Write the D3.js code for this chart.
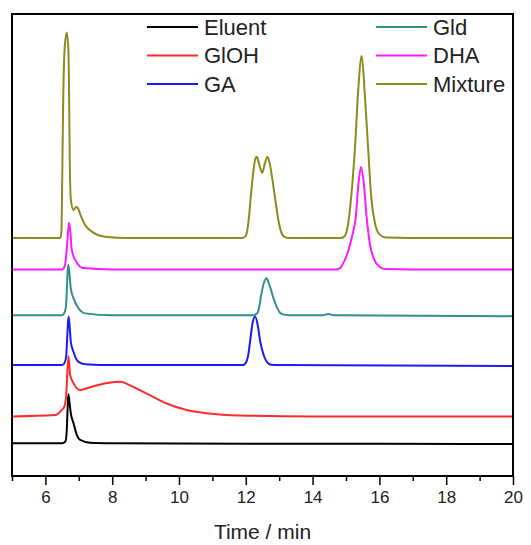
<!DOCTYPE html>
<html>
<head>
<meta charset="utf-8">
<script src="https://cdn.jsdelivr.net/npm/d3@7"></script>
<style>
  html, body { margin: 0; padding: 0; background: #fff; overflow: hidden; }
  svg { display: block; }
  text { font-family: "Liberation Sans", Arial, sans-serif; }
</style>
</head>
<body>
<div id="chart"></div>
<script>
// chromatograms: [time (min), signal (a.u.)]
const eluent = [[5,7.1],[6.5,7.1],[6.6,7.5],[6.64,10.0],[6.67,15.5],[6.69,17.7],[6.72,16.0],[6.76,13.6],[6.84,11.5],[6.94,8.9],[7.04,7.8],[7.34,7.2],[8,7.1],[12,7.0],[16,7.0],[20,6.9]]
const gloh = [[5,12.9],[6.3,13.2],[6.49,14.3],[6.56,14.9],[6.62,17.2],[6.69,26.0],[6.74,21.9],[6.84,20.1],[7.04,18.6],[7.24,19.0],[7.58,19.7],[7.9,20.2],[8.23,20.4],[8.63,19.3],[9.13,17.5],[9.63,15.7],[10.23,14.3],[10.83,13.6],[11.83,13.1],[14,12.9],[20,12.9]]
const ga = [[5,24.0],[6.5,24.0],[6.58,24.6],[6.62,25.8],[6.66,31.0],[6.69,34.5],[6.72,33.0],[6.76,29.1],[6.84,26.9],[6.99,24.7],[7.19,24.2],[8,24.0],[11.9,24.0],[12.0,24.5],[12.08,26.5],[12.13,29.2],[12.2,33.0],[12.28,34.5],[12.36,32.5],[12.43,29.2],[12.52,26.5],[12.62,24.8],[12.75,24.1],[13,24.0],[20,23.8]]
const gld = [[5,34.8],[6.5,34.8],[6.58,35.5],[6.62,37.0],[6.65,42.0],[6.68,45.7],[6.71,44.5],[6.76,40.6],[6.84,38.5],[6.99,36.3],[7.19,35.2],[8,34.8],[12.2,34.8],[12.34,35.2],[12.4,36.5],[12.45,38.7],[12.53,41.5],[12.62,42.8],[12.7,41.5],[12.82,38.7],[12.93,36.5],[13.07,35.1],[13.3,34.8],[14.3,34.8],[14.47,35.05],[14.65,34.8],[20,34.6]]
const dha = [[5,44.7],[6.5,44.7],[6.58,45.5],[6.62,47.5],[6.67,52.0],[6.71,54.8],[6.74,53.5],[6.79,48.9],[6.94,46.2],[7.13,45.0],[8,44.7],[14.7,44.7],[14.82,45.0],[14.95,46.5],[15.1,49.5],[15.2,52.5],[15.29,55.8],[15.37,63.0],[15.45,66.9],[15.53,63.5],[15.62,55.8],[15.72,50.0],[15.85,46.8],[16.0,45.3],[16.17,44.8],[17,44.7],[20,44.7]]
const mixture = [[5,51.5],[6.45,51.5],[6.48,53.0],[6.5,62.0],[6.53,80.0],[6.58,93.0],[6.64,96.0],[6.69,92.0],[6.71,82.0],[6.73,68.0],[6.76,60.0],[6.84,57.6],[6.92,58.2],[6.97,58.0],[7.05,56.5],[7.19,54.3],[7.39,52.9],[7.78,51.8],[8.5,51.5],[11.9,51.5],[12.0,52.0],[12.08,55.0],[12.15,60.5],[12.22,65.5],[12.28,68.5],[12.33,69.1],[12.4,67.5],[12.49,65.6],[12.57,67.6],[12.65,69.1],[12.72,67.5],[12.8,64.0],[12.88,60.0],[12.96,56.0],[13.05,53.0],[13.15,51.8],[13.3,51.5],[14.85,51.5],[14.97,52.0],[15.05,54.0],[15.15,60.0],[15.27,71.2],[15.37,84.0],[15.47,90.9],[15.56,83.0],[15.66,71.2],[15.76,60.0],[15.86,55.0],[16.0,52.3],[16.2,51.6],[17,51.5],[20,51.5]]

const names = ["Eluent", "GlOH", "GA", "Gld", "DHA", "Mixture"]
const colors = ["#000000", "#ff2a2a", "#1a1aff", "#2f8f8a", "#ff1aff", "#8b8b1e"]
const series = [eluent, gloh, ga, gld, dha, mixture]

const majorTicks = [6, 8, 10, 12, 14, 16, 18, 20]
const minorTicks = [5, 7, 9, 11, 13, 15, 17, 19]

const width = 531
const height = 545
const margin = {top: 14, right: 18, bottom: 69, left: 12}

const x = d3.scaleLinear()
  .domain([5, 20])
  .range([margin.left, width - margin.right])

const y = d3.scaleLinear()
  .domain([0, 100])
  .range([height - margin.bottom, margin.top])

const svg = d3.select("#chart")
  .append("svg")
  .attr("width", width)
  .attr("height", height)

svg.append("clipPath")
  .attr("id", "plot")
  .append("rect")
  .attr("x", x(5))
  .attr("y", y(100))
  .attr("width", x(20) - x(5))
  .attr("height", y(0) - y(100))

const line = d3.line()
  .x(d => x(d[0]))
  .y(d => y(d[1]))
  .curve(d3.curveMonotoneX)

svg.append("g")
  .attr("clip-path", "url(#plot)")
  .selectAll("path")
  .data(series)
  .join("path")
  .attr("d", line)
  .attr("fill", "none")
  .attr("stroke", (d, i) => colors[i])
  .attr("stroke-width", 2)
  .attr("stroke-linejoin", "round")

// frame: bottom and top as axes without ticks, plus the two sides
const x0 = x(5), x1 = x(20), y0 = y(0), y1 = y(100)
svg.append("g")
  .selectAll("line")
  .data([[x0, y1, x1, y1], [x1, y1, x1, y0], [x0, y0, x1, y0], [x0, y1, x0, y0]])
  .join("line")
  .attr("x1", d => d[0])
  .attr("y1", d => d[1])
  .attr("x2", d => d[2])
  .attr("y2", d => d[3])
  .attr("stroke", "#000")
  .attr("stroke-width", 2)
  .attr("stroke-linecap", "square")

const xAxis = svg.append("g")
  .attr("transform", `translate(0,${y0})`)
  .call(d3.axisBottom(x).tickValues(majorTicks).tickSize(9).tickPadding(6))
xAxis.select(".domain").remove()
xAxis.selectAll("line").attr("stroke", "#000").attr("stroke-width", 1.5)
xAxis.selectAll("text")
  .attr("font-size", 17)
  .attr("fill", "#222")
  .style("font-family", "'Liberation Sans', Arial, sans-serif")

const xMinor = svg.append("g")
  .attr("transform", `translate(0,${y0})`)
  .call(d3.axisBottom(x).tickValues(minorTicks).tickSize(5).tickFormat(""))
xMinor.select(".domain").remove()
xMinor.selectAll("line").attr("stroke", "#000").attr("stroke-width", 1.5)

svg.append("text")
  .attr("x", (x0 + x1) / 2)
  .attr("y", 539)
  .attr("text-anchor", "middle")
  .attr("font-size", 21)
  .attr("fill", "#222")
  .text("Time / min")

// legend, two columns of three
const legend = svg.append("g")
  .selectAll("g")
  .data(names)
  .join("g")
  .attr("transform", (d, i) => `translate(${i < 3 ? 147 : 376},${27 + (i % 3) * 28.5})`)

legend.append("line")
  .attr("x1", 0)
  .attr("x2", 51)
  .attr("stroke", (d, i) => colors[i])
  .attr("stroke-width", 2)

legend.append("text")
  .attr("x", 57)
  .attr("dy", "0.36em")
  .attr("font-size", 22)
  .attr("fill", "#222")
  .text(d => d)
</script>
</body>
</html>
